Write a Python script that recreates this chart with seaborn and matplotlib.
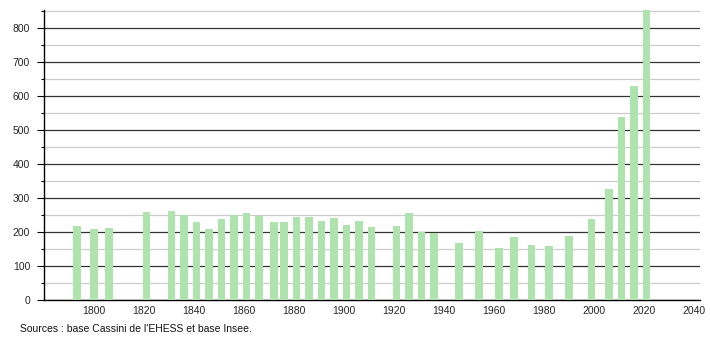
import matplotlib
matplotlib.use("Agg")
import matplotlib.pyplot as plt
import seaborn as sns
import pandas as pd
from matplotlib.ticker import MultipleLocator

years = [1793, 1800, 1806, 1821, 1831, 1836, 1841, 1846, 1851, 1856,
         1861, 1866, 1872, 1876, 1881, 1886, 1891, 1896, 1901, 1906,
         1911, 1921, 1926, 1931, 1936, 1946, 1954, 1962, 1968, 1975,
         1982, 1990, 1999, 2006, 2011, 2016, 2021]
population = [218, 209, 212, 260, 263, 249, 228, 209, 238, 250,
              257, 248, 230, 230, 244, 244, 233, 241, 221, 233,
              215, 218, 257, 200, 196, 168, 203, 153, 185, 162,
              159, 188, 237, 327, 539, 630, 856]
source_text = "Sources : base Cassini de l'EHESS et base Insee."

df = pd.DataFrame({"annee": years, "population": population})

sns.set_style("white")
plt.rcParams["font.family"] = ["Liberation Sans", "DejaVu Sans"]

fig = plt.figure(figsize=(7.1, 3.4), dpi=100)
ax = fig.add_axes([44 / 710, 40 / 340, 656 / 710, 290 / 340])

sns.barplot(data=df, x="annee", y="population", native_scale=True,
            width=0.8, color="#aee3ae", saturation=1, linewidth=0,
            ax=ax, zorder=3)

ax.set_xlim(1780, 2042.4)
ax.set_ylim(0, 853)
ax.yaxis.set_major_locator(MultipleLocator(100))
ax.yaxis.set_minor_locator(MultipleLocator(50))
ax.set_xticks(range(1800, 2041, 20))

ax.grid(False)
ax.grid(axis="y", which="major", color="#333333", linewidth=0.9, zorder=1)
ax.grid(axis="y", which="minor", color="#cccccc", linewidth=0.9, zorder=1)
ax.set_axisbelow(True)

for s in ["top", "right"]:
    ax.spines[s].set_visible(False)
for s in ["left", "bottom"]:
    ax.spines[s].set_color("#000000")
    ax.spines[s].set_linewidth(1.0)

ax.tick_params(axis="y", which="major", left=True, length=5, width=0.8,
               color="#000000", labelsize=7.5, pad=5)
ax.tick_params(axis="y", which="minor", left=True, length=2.5, width=0.8,
               color="#000000")
ax.tick_params(axis="x", which="both", bottom=False, length=0,
               labelsize=7.5, pad=4)
ax.set_xlabel("")
ax.set_ylabel("")

fig.text(20 / 710, 1 - 329 / 340, source_text, fontsize=7.5, va="center",
         ha="left", color="#111111")

fig.savefig("out.png", dpi=100)
